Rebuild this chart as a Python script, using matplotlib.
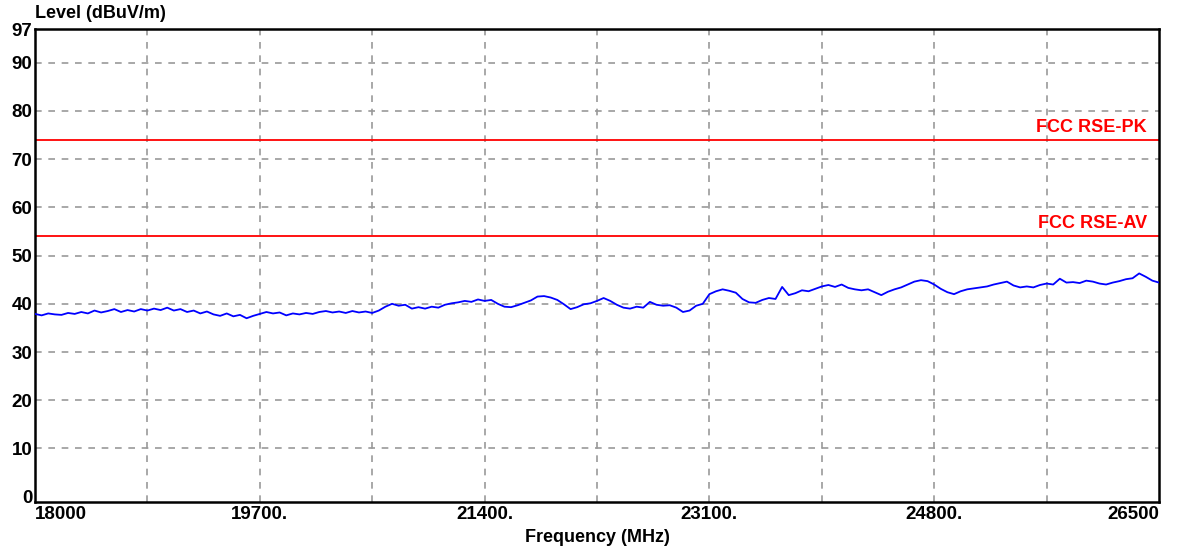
import numpy as np
import matplotlib
matplotlib.use("Agg")
import matplotlib.pyplot as plt
from matplotlib.transforms import blended_transform_factory

# ---- data ----
f_start, f_stop, f_step = 18000, 26500, 50
level = [
    37.9, 37.6, 38.0, 37.8, 37.7, 38.1, 37.9, 38.3, 38.0, 38.6,
    38.2, 38.5, 38.9, 38.3, 38.7, 38.4, 38.9, 38.6, 39.0, 38.7,
    39.2, 38.6, 38.9, 38.3, 38.6, 38.0, 38.4, 37.8, 37.5, 38.0,
    37.4, 37.7, 37.0, 37.5, 37.9, 38.3, 38.0, 38.2, 37.6, 38.0,
    37.8, 38.1, 37.9, 38.3, 38.5, 38.2, 38.4, 38.1, 38.5, 38.2,
    38.4, 38.1, 38.6, 39.4, 40.0, 39.6, 39.8, 39.0, 39.3, 39.0,
    39.4, 39.2, 39.8, 40.1, 40.3, 40.6, 40.4, 40.9, 40.6, 40.8,
    40.0, 39.4, 39.3, 39.7, 40.2, 40.7, 41.5, 41.6, 41.3, 40.8,
    39.9, 38.9, 39.3, 39.9, 40.1, 40.6, 41.2, 40.6, 39.8, 39.2,
    39.0, 39.4, 39.2, 40.4, 39.8, 39.6, 39.7, 39.2, 38.3, 38.6,
    39.6, 40.0, 42.0, 42.6, 43.0, 42.7, 42.3, 41.0, 40.3, 40.2,
    40.8, 41.2, 41.0, 43.5, 41.8, 42.2, 42.8, 42.6, 43.1, 43.6,
    43.9, 43.5, 44.0, 43.3, 43.0, 42.8, 43.0, 42.4, 41.8, 42.5,
    43.0, 43.4, 44.0, 44.6, 44.9, 44.7, 44.0, 43.1, 42.4, 42.0,
    42.6, 43.0, 43.2, 43.4, 43.6, 44.0, 44.3, 44.6, 43.8, 43.4,
    43.6, 43.4, 43.9, 44.2, 44.0, 45.2, 44.4, 44.5, 44.3, 44.8,
    44.6, 44.2, 44.0, 44.4, 44.7, 45.1, 45.3, 46.3, 45.6, 44.8,
    44.4,
]
limit_names = ["FCC RSE-PK", "FCC RSE-AV"]
limit_values = [74, 54]
y_ticks = [0, 10, 20, 30, 40, 50, 60, 70, 80, 90, 97]
x_tick_values = [18000, 19700, 21400, 23100, 24800, 26500]
x_tick_labels = ["18000", "19700.", "21400.", "23100.", "24800.", "26500"]
x_grid_step = 850

freq = np.arange(f_start, f_stop + 1, f_step)[:len(level)]

plt.rcParams['font.family'] = ['Liberation Sans', 'DejaVu Sans']
plt.rcParams['font.weight'] = 'bold'

fig = plt.figure(figsize=(11.79, 5.54), dpi=100)
ax = fig.add_axes([35 / 1179, 1 - 501.7 / 554, (1159 - 35) / 1179, (501.7 - 29) / 554])

ax.set_xlim(f_start, f_stop)
ax.set_ylim(-1.05, 97)

# grid
for g in np.arange(f_start + x_grid_step, f_stop, x_grid_step):
    ax.axvline(g, color='#999999', lw=1.2, ls=(0, (4, 4)), zorder=1)
for g in y_ticks[1:-1]:
    ax.axhline(g, color='#999999', lw=1.2, ls=(0, (4, 4)), zorder=1)

# limit lines
trans = blended_transform_factory(ax.transAxes, ax.transData)
for name, val in zip(limit_names, limit_values):
    ax.axhline(val, color='#ff0000', lw=1.3, zorder=2)
    ax.text(0.989, val + 0.8, name, color='#ff0000', fontsize=13,
            fontweight='bold', ha='right', va='bottom', transform=trans)

ax.plot(freq, level, color='#0000ff', lw=1.3, zorder=3)

ax.set_yticks(y_ticks)
ax.set_yticklabels([str(t) for t in y_ticks], fontsize=13.5, fontweight='bold')
ax.set_xticks(x_tick_values)
ax.set_xticklabels(x_tick_labels, fontsize=13.5, fontweight='bold')
xl = ax.get_xticklabels()
xl[0].set_ha('left')
xl[-1].set_ha('right')
ax.tick_params(axis='both', length=0, pad=2)
ax.tick_params(axis='x', pad=3)

for s in ax.spines.values():
    s.set_linewidth(1.8)
    s.set_color('black')

fig.text(35 / 1179, 1 - 14 / 554, "Level (dBuV/m)", fontsize=13, fontweight='bold',
         ha='left', va='center')
fig.text(597 / 1179, 1 - 538 / 554, "Frequency (MHz)", fontsize=13, fontweight='bold',
         ha='center', va='center')

fig.savefig("out.png", dpi=100)
